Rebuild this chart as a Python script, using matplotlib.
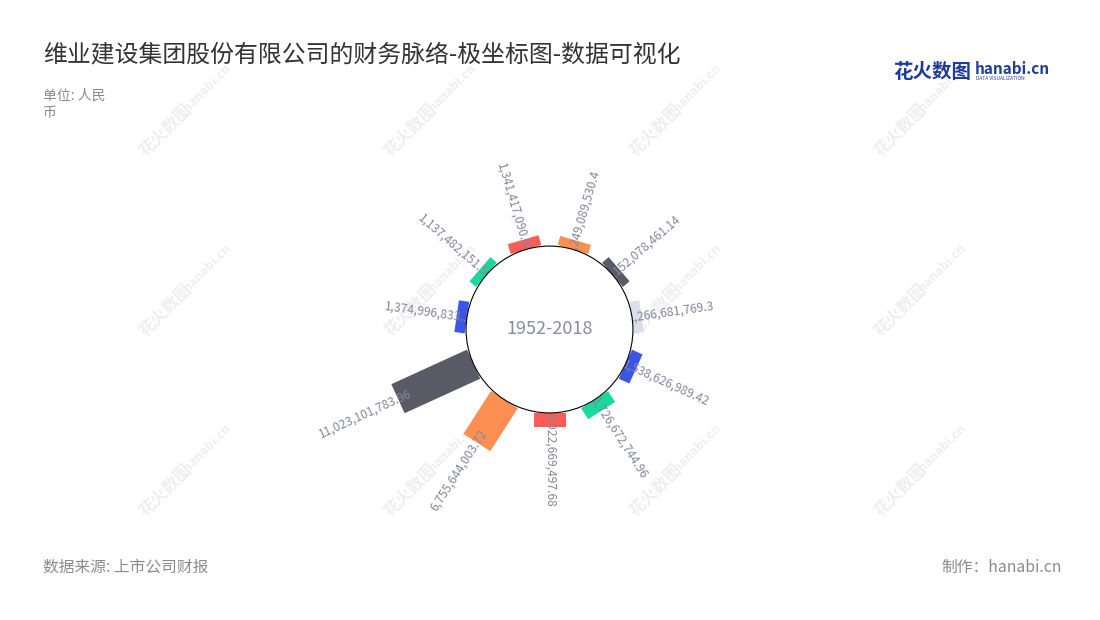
"""Polar bar chart of the yearly figures for 维业建设 (hanabi style)."""
import numpy as np
import matplotlib
matplotlib.use('Agg')
import matplotlib.pyplot as plt
from matplotlib.patches import Circle

plt.rcParams['font.family'] = ['Noto Sans CJK SC', 'DejaVu Sans']

# data, clockwise from the top
values = [1249089530.4, 1152078461.14, 1266681769.3, 1538626989.42,
          1726672744.96, 1922669497.68, 6755644003.72, 11023101783.96,
          1374996833.1, 1137482151.54, 1341417090.08]
value_labels = ['1,249,089,530.4', '1,152,078,461.14', '1,266,681,769.3',
                '1,538,626,989.42', '1,726,672,744.96', '1,922,669,497.68',
                '6,755,644,003.72', '11,023,101,783.96', '1,374,996,833.1',
                '1,137,482,151.54', '1,341,417,090.08']
bar_colors = ['#fe8f52', '#5a5a66', '#dcdfe9', '#3a55e8', '#19d99f', '#ff5b57',
              '#fe8f52', '#5a5a66', '#3a55e8', '#19d99f', '#ff5b57']
center_text = '1952-2018'

W, H = 1100, 620
fig = plt.figure(figsize=(W / 100, H / 100), dpi=100)
fig.patch.set_facecolor('white')

# watermarks (behind everything)
wm = fig.add_axes([0, 0, 1, 1], zorder=-5)
wm.axis('off')
wm.set_xlim(0, W)
wm.set_ylim(H, 0)
for wx in [165, 410, 655, 900]:
    for wy in [130, 310, 490]:
        wm.text(wx, wy, '花火数图', rotation=45, fontsize=12, fontweight='bold',
                color='#efefef', ha='center', va='center')
        wm.text(wx + 42, wy - 42, 'hanabi.cn', rotation=45, fontsize=9, fontweight='bold',
                color='#efefef', ha='center', va='center')

# polar axes: centre (549.5, 329.5) px, outer radius 226 px
cx, cy, P = 549.5, 329.5, 226
ax = fig.add_axes([(cx - P) / W, (H - cy - P) / H, 2 * P / W, 2 * P / H],
                  projection='polar', zorder=1)
ax.set_theta_zero_location('N')
ax.set_theta_direction(-1)
r_hole = 11.06e9
r_max = 18.9e9
ax.set_ylim(0, r_max)
ax.set_rorigin(-r_hole)
ax.axis('off')

n = len(values)
thetas = (np.arange(n) + 0.5) * 2 * np.pi / n

for th, v, c, lab in zip(thetas, values, bar_colors, value_labels):
    ax.plot([th, th], [0, v], color=c, lw=23, solid_capstyle='butt', zorder=2)
    deg = np.degrees(th)
    off = 10
    dx, dy = -off * np.sin(th), -off * np.cos(th)
    if deg <= 180.5:
        rot, ha = 90 - deg, 'left'
    else:
        rot, ha = 270 - deg, 'right'
    ax.annotate(lab, xy=(th, v), xytext=(dx, dy), textcoords='offset points',
                rotation=rot, rotation_mode='anchor', ha=ha, va='center',
                fontsize=8.7, color='#86869c', zorder=2.5, annotation_clip=False)

# inner white circle
frac = r_hole / (r_hole + r_max) * 0.5
ax.add_patch(Circle((0.5, 0.5), frac, transform=ax.transAxes, facecolor='white',
                    edgecolor='black', lw=0.8, zorder=3, clip_on=False))
ax.text(0.5, 0.5, center_text, transform=ax.transAxes, ha='center', va='center',
        fontsize=13, color='#8a8aa0', zorder=4)

# titles and notes
fig.text(43 / W, 1 - 55 / H, '维业建设集团股份有限公司的财务脉络-极坐标图-数据可视化',
         fontsize=17.2, color='#333333', va='center')
fig.text(43 / W, 1 - 96 / H, '单位: 人民', fontsize=10, color='#8a8a8a', va='center')
fig.text(43 / W, 1 - 113 / H, '币', fontsize=10, color='#8a8a8a', va='center')
fig.text(43 / W, 1 - 567 / H, '数据来源: 上市公司财报', fontsize=11.3, color='#8a8a8a', va='center')
fig.text(1062 / W, 1 - 567 / H, '制作：hanabi.cn', fontsize=11.3, color='#8a8a8a',
         va='center', ha='right')

# logo
fig.text(893 / W, 1 - 72 / H, '花火数图', fontsize=14, fontweight='bold', color='#1f3c9c', va='center')
fig.text(975 / W, 1 - 69 / H, 'hanabi.cn', fontsize=11, fontweight='bold', color='#1f3c9c', va='center')
fig.text(976 / W, 1 - 79 / H, 'DATA VISUALIZATION', fontsize=3.5, color='#1f3c9c', va='center')

fig.savefig('out.png', dpi=100, facecolor='white')
